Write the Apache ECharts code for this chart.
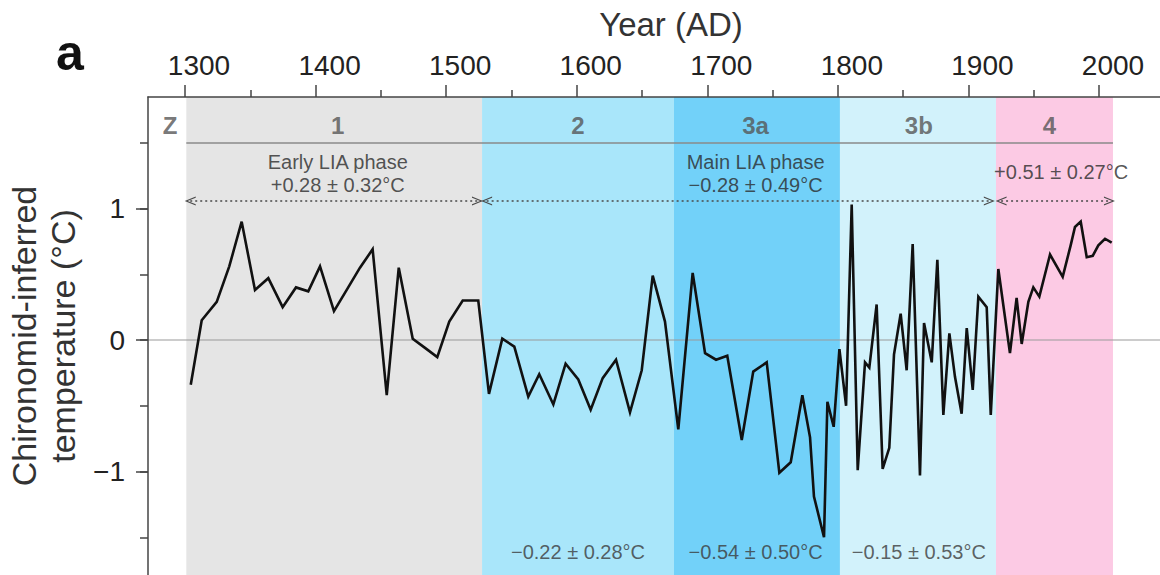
<!DOCTYPE html>
<html>
<head>
<meta charset="utf-8">
<script src="https://cdn.jsdelivr.net/npm/echarts@6/dist/echarts.min.js"></script>
<style>
  html, body { margin: 0; padding: 0; background: #fff; }
  #chart { width: 1160px; height: 575px; }
</style>
</head>
<body>
<div id="chart"></div>
<script>
// ---- data ----
const years = [1304.4,1312.8,1324.3,1333.9,1343.4,1353.6,1363.8,1374.8,1385.0,1394.4,1403.4,1414.1,1425.0,1434.0,1443.7,1454.5,1463.7,1474.4,1483.8,1493.2,1502.4,1512.7,1524.6,1532.8,1543.0,1552.2,1562.9,1571.3,1582.1,1591.5,1601.2,1610.7,1619.9,1630.1,1640.8,1649.8,1658.2,1667.6,1677.8,1688.8,1698.3,1706.7,1715.3,1726.4,1735.2,1745.5,1755.2,1763.9,1772.8,1778.7,1781.7,1789.4,1792.0,1796.8,1801.2,1806.3,1810.6,1815.2,1820.8,1824.1,1829.7,1834.3,1839.4,1843.0,1848.1,1852.7,1857.3,1862.9,1866.0,1871.9,1876.2,1880.8,1885.4,1889.7,1894.8,1898.7,1903.3,1907.6,1914.0,1917.1,1922.9,1931.8,1936.9,1940.8,1945.9,1949.7,1954.3,1962.5,1972.2,1978.3,1981.6,1986.0,1990.6,1995.2,1999.5,2004.6,2009.7];
const temps = [-0.34,0.15,0.29,0.56,0.90,0.38,0.47,0.25,0.40,0.37,0.56,0.22,0.40,0.55,0.69,-0.42,0.55,0.01,-0.06,-0.13,0.14,0.30,0.30,-0.41,0.01,-0.05,-0.43,-0.26,-0.49,-0.18,-0.30,-0.53,-0.29,-0.15,-0.55,-0.23,0.49,0.14,-0.68,0.51,-0.10,-0.15,-0.12,-0.76,-0.24,-0.17,-1.01,-0.93,-0.42,-0.74,-1.19,-1.50,-0.47,-0.66,-0.07,-0.50,1.03,-0.99,-0.17,-0.21,0.27,-0.98,-0.82,-0.11,0.20,-0.23,0.73,-1.03,0.13,-0.17,0.61,-0.57,0.05,-0.28,-0.56,0.09,-0.38,0.33,0.25,-0.57,0.54,-0.10,0.32,-0.03,0.29,0.40,0.33,0.65,0.48,0.72,0.86,0.90,0.63,0.64,0.72,0.77,0.74];

const xMajorTicks = [1300,1400,1500,1600,1700,1800,1900,2000];
const xMinorTicks = [1350,1450,1550,1650,1750,1850,1950];

// zones: [name, start year, end year]
const zoneNames  = ['Z','1','2','3a','3b','4'];
const zoneStarts = [1271.7,1301,1527.5,1674.5,1801.6,1921.1];
const zoneEnds   = [1301,1527.5,1674.5,1801.6,1921.1,2010.7];
const zoneLabelYears = [1288.5,1417,1601,1737,1862,1962];

// phase annotations
const phaseTexts = ['Early LIA phase\n+0.28 ± 0.32°C','Main LIA phase\n−0.28 ± 0.49°C','+0.51 ± 0.27°C'];
const phaseArrowStarts = [1304,1531,1925];
const phaseArrowEnds   = [1524,1916,2008];
const phaseTextYears   = [1417,1737,1971];
const subzoneTexts = ['−0.22 ± 0.28°C','−0.54 ± 0.50°C','−0.15 ± 0.53°C'];
const subzoneTextYears = [1601,1737,1862];

// ---- layout constants ----
const XMIN = 1271.66, XMAX = 2046.72;
const YMIN = -1.787, YMAX = 1.848;
const HEADER_Y = 1.635, HEADER_LINE_Y = 1.498;
const ARROW_Y = 1.057;
const PHASE_TEXT_Y = [1.266, 1.266, 1.278];
const SUB_TEXT_Y = -1.612;
const FONT = 'Liberation Sans';

const zoneColors = ['rgba(0,0,0,0)','#e5e5e5','#a9e6fa','#72d1f9','#d2f2fb','#fccae4'];

const chart = echarts.init(document.getElementById('chart'), null, {renderer: 'svg'});

const fmtNum = v => (v < 0 ? '\u2212' + Math.abs(v) : String(v));

const chevron = 'path://M0,10 L5,0 L10,10 L8.6,10 L5,2.6 L1.4,10 Z';

const gridBase = {left: 148, right: 0, containLabel: false, outerBoundsMode: 'none'};

const option = {
  animation: false,
  backgroundColor: '#fff',
  textStyle: {fontFamily: FONT},
  grid: [
    Object.assign({top: 97, bottom: 0}, gridBase),        // main plot
    Object.assign({top: 142.75, bottom: -28}, gridBase),  // minor y ticks (-2 .. 1.5)
    Object.assign({top: 208.5, bottom: -28}, gridBase)    // major y ticks + labels (-2 .. 1)
  ],
  xAxis: [
    {
      type: 'value', gridIndex: 0, position: 'top', min: XMIN, max: XMAX, z: 10,
      axisLine: {show: true, onZero: false, lineStyle: {color: '#444', width: 1.5}},
      axisTick: {show: true, customValues: xMajorTicks, length: 12, lineStyle: {color: '#444', width: 1.5}},
      axisLabel: {show: true, customValues: xMajorTicks, fontSize: 28, fontFamily: FONT, color: '#222', margin: 18,
                  padding: [0,0,0,28], formatter: v => String(v)},
      splitLine: {show: false},
      name: 'Year (AD)', nameLocation: 'middle', nameGap: 56,
      nameTextStyle: {fontSize: 33, fontFamily: FONT, color: '#333', padding: [0,0,0,34]}
    },
    {
      type: 'value', gridIndex: 0, position: 'top', min: XMIN, max: XMAX, z: 10,
      axisLine: {show: false, onZero: false},
      axisTick: {show: true, customValues: xMinorTicks, length: 7, lineStyle: {color: '#444', width: 1.5}},
      axisLabel: {show: false},
      splitLine: {show: false}
    },
    {type: 'value', gridIndex: 1, min: 0, max: 1, show: false},
    {type: 'value', gridIndex: 2, min: 0, max: 1, show: false}
  ],
  yAxis: [
    {
      type: 'value', gridIndex: 0, min: YMIN, max: YMAX, z: 10,
      axisLine: {show: true, onZero: false, lineStyle: {color: '#444', width: 1.5}},
      axisTick: {show: false},
      axisLabel: {show: false},
      splitLine: {show: false},
      name: 'Chironomid-inferred\ntemperature (°C)', nameLocation: 'middle', nameRotate: 90, nameGap: 66,
      nameTextStyle: {fontSize: 34, fontFamily: FONT, color: '#333', lineHeight: 39, align: 'center'}
    },
    {
      type: 'value', gridIndex: 1, min: -2, max: 1.5, interval: 0.5, z: 10,
      axisLine: {show: false, onZero: false},
      axisTick: {show: true, length: 8, lineStyle: {color: '#444', width: 1.5}},
      axisLabel: {show: false},
      splitLine: {show: false}
    },
    {
      type: 'value', gridIndex: 2, min: -2, max: 1, interval: 1, z: 10,
      axisLine: {show: false, onZero: false},
      axisTick: {show: true, length: 12, lineStyle: {color: '#444', width: 1.5}},
      axisLabel: {show: true, fontSize: 28, fontFamily: FONT, color: '#222', margin: 23,
                  formatter: v => (v < -1.5 ? '' : fmtNum(v))},
      splitLine: {show: false}
    }
  ],
  graphic: [
    {type: 'text', left: 56, top: 28, style: {text: 'a', font: 'bold 50px "Liberation Sans", Arial, sans-serif', fill: '#111'}}
  ],
  series: [
    {
      name: 'zones', type: 'line', data: [], z: 1, silent: true,
      markArea: {
        silent: true,
        data: zoneNames.map((n, i) => [
          {xAxis: zoneStarts[i], itemStyle: {color: zoneColors[i]}},
          {xAxis: zoneEnds[i]}
        ])
      }
    },
    {
      name: 'zero', type: 'line', z: 2, silent: true, showSymbol: false, symbol: 'none',
      data: [[XMIN, 0], [XMAX, 0]],
      lineStyle: {color: '#9a9a9a', width: 1.2}
    },
    {
      name: 'header', type: 'line', z: 2, silent: true, showSymbol: false, symbol: 'none',
      data: [[zoneStarts[1], HEADER_LINE_Y], [zoneEnds[5], HEADER_LINE_Y]],
      lineStyle: {color: '#8a8a8a', width: 1.6}
    },
    {
      name: 'arrows', type: 'line', data: [], z: 3, silent: true,
      markLine: {
        silent: true,
        symbol: [chevron, chevron],
        symbolSize: [9, 11],
        lineStyle: {color: '#4a4a4a', width: 1.6, type: [2, 3]},
        label: {show: false},
        data: phaseArrowStarts.map((s, i) => [
          {coord: [s, ARROW_Y]},
          {coord: [phaseArrowEnds[i], ARROW_Y]}
        ])
      }
    },
    {
      name: 'temperature', type: 'line', z: 4,
      data: years.map((y, i) => [y, temps[i]]),
      showSymbol: false, symbol: 'none',
      lineStyle: {color: '#111', width: 2.6, join: 'miter'}
    },
    {
      name: 'zoneLabels', type: 'scatter', z: 5, silent: true, symbolSize: 0,
      data: zoneNames.map((n, i) => ({name: n, value: [zoneLabelYears[i], HEADER_Y]})),
      label: {show: true, position: 'inside', formatter: p => p.name, fontFamily: FONT,
              fontSize: 24, fontWeight: 'bold', color: '#555'}
    },
    {
      name: 'phaseLabels', type: 'scatter', z: 5, silent: true, symbolSize: 0,
      data: phaseTexts.map((t, i) => ({name: t, value: [phaseTextYears[i], PHASE_TEXT_Y[i]]})),
      label: {show: true, position: 'inside', formatter: p => p.name, fontFamily: FONT,
              fontSize: 20, lineHeight: 23, color: '#2a2a2a'}
    },
    {
      name: 'subzoneLabels', type: 'scatter', z: 5, silent: true, symbolSize: 0,
      data: subzoneTexts.map((t, i) => ({name: t, value: [subzoneTextYears[i], SUB_TEXT_Y]})),
      label: {show: true, position: 'inside', formatter: p => p.name, fontFamily: FONT,
              fontSize: 20, color: '#3a3a3a'}
    }
  ]
};
chart.setOption(option);
</script>
</body>
</html>
